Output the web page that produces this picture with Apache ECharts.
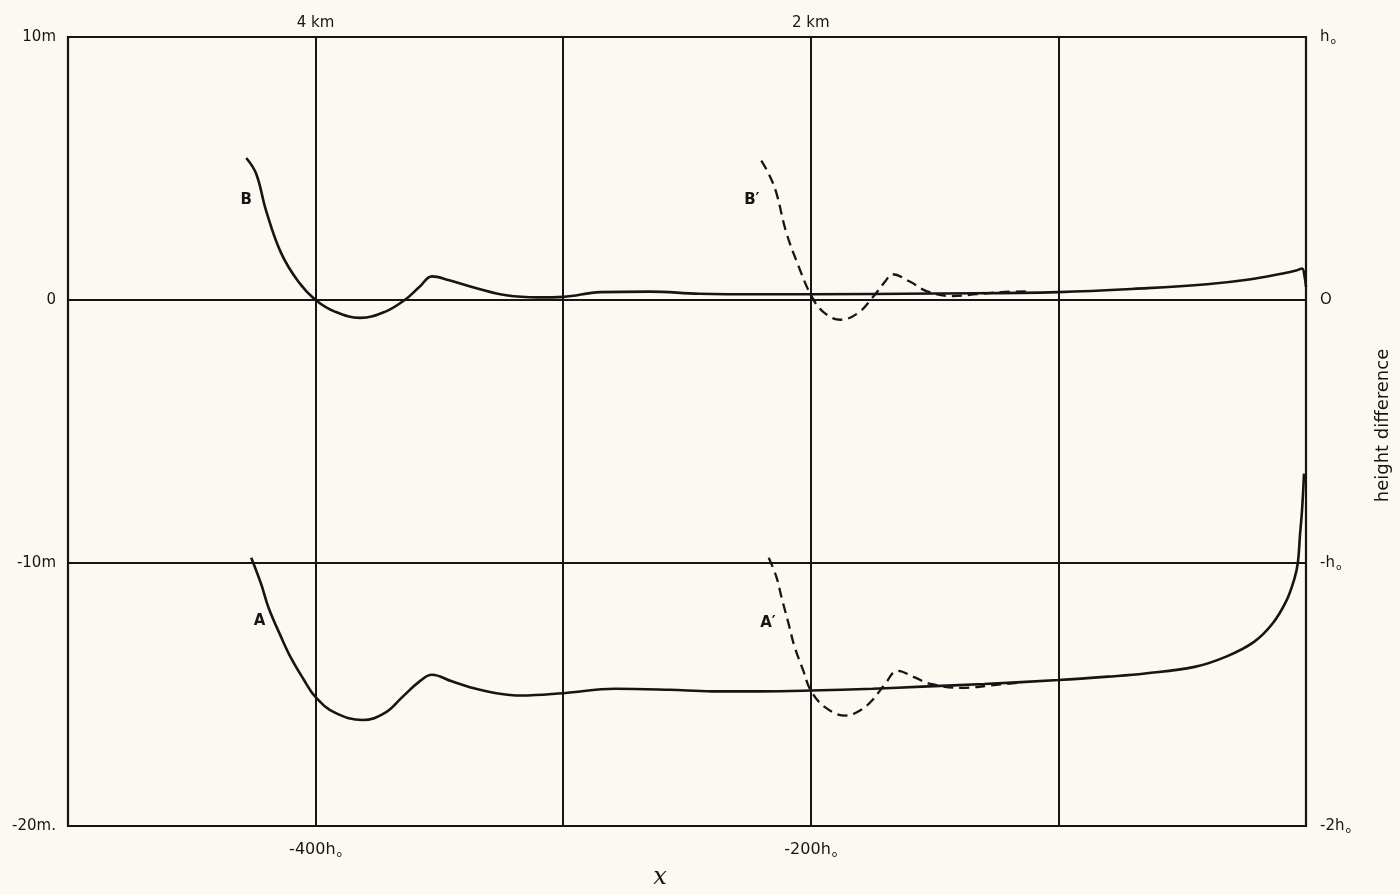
<!DOCTYPE html>
<html>
<head>
<meta charset="utf-8">
<script src="https://cdn.jsdelivr.net/npm/echarts@6/dist/echarts.min.js"></script>
<style>
  html, body { margin: 0; padding: 0; background: #fbf9f1; }
  #main { width: 1400px; height: 895px; }
</style>
</head>
<body>
<div id="main"></div>
<script>
// x in units of h0 (distance), y in metres
const curveA = [
  [-426, -9.8], [-422, -10.8], [-419, -11.7], [-414, -12.8], [-410, -13.6], [-405, -14.4],
  [-400, -15.1], [-392, -15.7], [-381, -15.97], [-372, -15.7], [-365, -15.1], [-358, -14.5],
  [-353, -14.25], [-345, -14.5], [-337, -14.74], [-327, -14.95], [-317, -15.04], [-300, -14.95],
  [-279, -14.78], [-257, -14.82], [-240, -14.88], [-220, -14.88], [-200, -14.85], [-175, -14.78],
  [-155, -14.7], [-130, -14.6], [-100, -14.45], [-80, -14.32], [-65, -14.2], [-45, -13.95],
  [-32, -13.55], [-21, -13.0], [-13.5, -12.3], [-8, -11.45], [-4.7, -10.6], [-3.3, -10.0],
  [-2.4, -8.9], [-1.6, -8.0], [-0.8, -6.6]
];
const curveA2 = [
  [-217, -9.8], [-214, -10.5], [-211.7, -11.35], [-209, -12.3], [-206.5, -13.2], [-203, -14.1],
  [-200, -14.85], [-194, -15.5], [-186, -15.8], [-180, -15.6], [-175, -15.2], [-170, -14.6],
  [-165, -14.1], [-158, -14.35], [-151.6, -14.6], [-139, -14.75], [-127, -14.65], [-116, -14.55]
];
const curveB = [
  [-428, 5.4], [-424, 4.8], [-420, 3.4], [-414, 1.8], [-407, 0.7], [-400, 0], [-392, -0.45],
  [-382, -0.68], [-372, -0.45], [-364, 0], [-358, 0.5], [-353, 0.9], [-346, 0.75], [-335, 0.45],
  [-323, 0.18], [-310, 0.1], [-300, 0.12], [-285, 0.3], [-265, 0.32], [-245, 0.24], [-220, 0.22],
  [-200, 0.22], [-150, 0.25], [-100, 0.3], [-64, 0.45], [-40, 0.6], [-23, 0.78], [-10, 1.0],
  [-4, 1.12], [-1.6, 1.2], [-0.6, 0.9], [0, 0.5]
];
const curveB2 = [
  [-220, 5.3], [-217, 4.8], [-214, 4.1], [-210, 2.6], [-205, 1.3], [-200, 0.2], [-195, -0.45],
  [-188, -0.75], [-181, -0.5], [-175, 0.1], [-170, 0.7], [-167, 0.98], [-160, 0.7], [-153, 0.33],
  [-143, 0.15], [-133, 0.22], [-123, 0.3], [-113, 0.33]
];

// curve name tags: text, x, y (data units)
const tagText = ['A', 'A′', 'B', 'B′'];
const tagX = [-422.6, -217.3, -428, -223.8];
const tagY = [-12.2, -12.3, 3.8, 3.8];

const yTicks = [-20, -10, 0, 10];
const leftLabels = ['-20m.', '-10m', '0', '10m'];
const rightLabels = ['-2h{s|o}', '-h{s|o}', 'O', 'h{s|o}'];
const xTicks = [-400, -200];
const bottomLabels = ['-400h{s|o}', '-200h{s|o}'];
const topLabels = ['4 km', '2 km'];

const ink = '#151515';
const font = 'DejaVu Sans';
const sub = { s: { fontSize: 9, fontFamily: font, color: ink, padding: [10, 0, 0, 1] } };

function pick(ticks, labels) {
  return function (v) {
    const i = ticks.indexOf(v);
    return i < 0 ? '' : labels[i];
  };
}

function tagPoint(i) {
  return {
    coord: [tagX[i], tagY[i]],
    value: tagText[i],
    label: { formatter: tagText[i] }
  };
}

const myChart = echarts.init(document.getElementById('main'));

const solid = { color: ink, width: 2.6, type: 'solid' };
const dashed = { color: ink, width: 2.3, type: [10, 6] };

function line(data, style, tags) {
  return {
    type: 'line',
    data: data,
    symbol: 'none',
    smooth: 0.4,
    lineStyle: style,
    itemStyle: { color: ink },
    silent: true,
    z: 5,
    markPoint: {
      symbol: 'circle',
      symbolSize: 0,
      label: {
        show: true,
        position: 'inside',
        color: ink,
        fontFamily: font,
        fontSize: 15,
        fontWeight: 'bold'
      },
      data: tags.map(tagPoint)
    }
  };
}

const option = {
  backgroundColor: '#fbf9f1',
  animation: false,
  grid: {
    left: 68, right: 92, top: 37, bottom: 55,
    show: true,
    borderColor: ink,
    borderWidth: 2.2
  },
  xAxis: [
    {
      type: 'value',
      min: -500, max: 0, interval: 100,
      position: 'bottom',
      name: 'x',
      nameLocation: 'middle',
      nameGap: 40,
      nameTextStyle: { fontFamily: 'DejaVu Serif', fontStyle: 'italic', fontSize: 24, color: ink, padding: [0, 54, 0, 0] },
      axisLine: { show: false },
      axisTick: { show: false },
      axisLabel: {
        margin: 14,
        formatter: pick(xTicks, bottomLabels),
        color: ink, fontFamily: font, fontSize: 16,
        rich: sub
      },
      splitLine: { show: true, lineStyle: { color: ink, width: 2 } }
    },
    {
      type: 'value',
      min: -500, max: 0, interval: 100,
      position: 'top',
      axisLine: { show: false },
      axisTick: { show: false },
      axisLabel: {
        margin: 6,
        formatter: pick(xTicks, topLabels),
        color: ink, fontFamily: font, fontSize: 15
      },
      splitLine: { show: false }
    }
  ],
  yAxis: [
    {
      type: 'value',
      min: -20, max: 10, interval: 10,
      position: 'left',
      axisLine: { show: false },
      axisTick: { show: false },
      axisLabel: {
        margin: 12,
        formatter: pick(yTicks, leftLabels),
        color: ink, fontFamily: font, fontSize: 15
      },
      splitLine: { show: true, lineStyle: { color: ink, width: 2 } }
    },
    {
      type: 'value',
      min: -20, max: 10, interval: 10,
      position: 'right',
      name: 'height difference',
      nameLocation: 'middle',
      nameRotate: 90,
      nameGap: 68,
      nameTextStyle: { fontFamily: font, fontSize: 18, color: ink, padding: [0, 0, 0, 12] },
      axisLine: { show: false },
      axisTick: { show: false },
      axisLabel: {
        margin: 14,
        formatter: pick(yTicks, rightLabels),
        color: ink, fontFamily: font, fontSize: 15,
        rich: sub
      },
      splitLine: { show: false }
    }
  ],
  series: [
    line(curveA, solid, [0]),
    line(curveA2, dashed, [1]),
    line(curveB, solid, [2]),
    line(curveB2, dashed, [3])
  ]
};

myChart.setOption(option);
</script>
</body>
</html>
